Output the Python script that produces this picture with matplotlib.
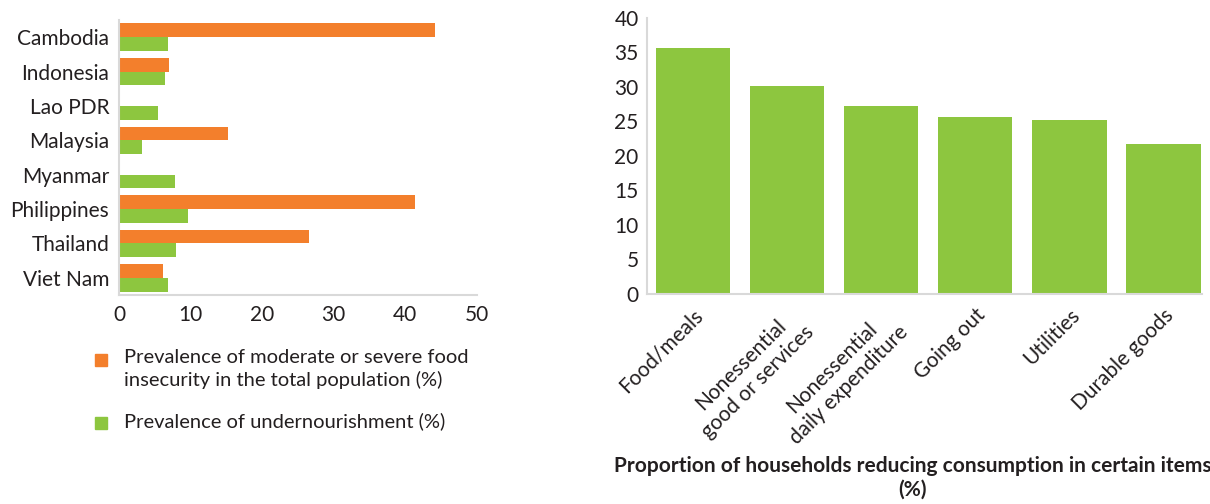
import matplotlib
matplotlib.use('Agg')
import matplotlib.pyplot as plt
import numpy as np
from matplotlib.patches import Rectangle

plt.rcParams['font.family'] = ['Lato', 'DejaVu Sans']

# left panel data
countries = ['Cambodia', 'Indonesia', 'Lao PDR', 'Malaysia', 'Myanmar',
             'Philippines', 'Thailand', 'Viet Nam']
food_insecurity = [44.2, 7.0, np.nan, 15.2, np.nan, 41.3, 26.5, 6.2]
undernourishment = [6.8, 6.4, 5.4, 3.2, 7.8, 9.7, 7.9, 6.8]
left_ticks = [0, 10, 20, 30, 40, 50]
legend_labels = ['Prevalence of moderate or severe food\ninsecurity in the total population (%)',
                 'Prevalence of undernourishment (%)']

# right panel data
items = ['Food/meals', 'Nonessential\ngood or services', 'Nonessential\ndaily expenditure',
         'Going out', 'Utilities', 'Durable goods']
households_pct = [35.7, 30.1, 27.2, 25.6, 25.2, 21.7]
right_ticks = [0, 5, 10, 15, 20, 25, 30, 35, 40]

orange = '#F37F2C'
green = '#8DC63F'
txt = '#231F20'
spine_col = '#D9D9D9'

W, H = 1210, 504
fig = plt.figure(figsize=(W / 100, H / 100), dpi=100)

# ---- left: horizontal grouped bars
ax1 = fig.add_axes([0.0983, 0.4147, 0.2959, 0.5457])
y = np.arange(len(countries))
ax1.barh(y - 0.2, food_insecurity, height=0.4, color=orange)
ax1.barh(y + 0.2, undernourishment, height=0.4, color=green)
ax1.set_yticks(y)
ax1.set_yticklabels(countries)
ax1.set_ylim(7.5, -0.5)
ax1.set_xlim(0, 50)
ax1.set_xticks(left_ticks)
for s in ['top', 'right']:
    ax1.spines[s].set_visible(False)
for s in ['left', 'bottom']:
    ax1.spines[s].set_color(spine_col)
    ax1.spines[s].set_linewidth(1.5)
ax1.tick_params(length=0, labelsize=15, colors=txt, pad=7)

# legend drawn by hand so the swatch sits on the first text line
for col, lab, ypx in zip([orange, green], legend_labels, [360, 423]):
    fig.add_artist(Rectangle((95 / W, 1 - (ypx + 6) / H), 12 / W, 12 / H,
                             transform=fig.transFigure, color=col))
    fig.text(124 / W, 1 - (ypx - 11) / H, lab, ha='left', va='top',
             fontsize=14.5, color=txt, linespacing=1.3)

# ---- right: vertical bars
ax2 = fig.add_axes([0.5347, 0.4167, 0.4587, 0.5476])
x = np.arange(len(items))
ax2.bar(x, households_pct, width=0.79, color=green)
ax2.set_xlim(-0.49, 5.41)
ax2.set_ylim(0, 40)
ax2.set_yticks(right_ticks)
ax2.set_xticks(x)
ax2.set_xticklabels(items, rotation=45, ha='right', rotation_mode='anchor',
                    multialignment='center')
for s in ['top', 'right']:
    ax2.spines[s].set_visible(False)
for s in ['left', 'bottom']:
    ax2.spines[s].set_color(spine_col)
    ax2.spines[s].set_linewidth(1.5)
ax2.tick_params(length=0, labelsize=15, colors=txt)
ax2.tick_params(axis='x', pad=8)
ax2.tick_params(axis='y', pad=6)

fig.text(0.7545, 0.052, 'Proportion of households reducing consumption in certain items\n(%)',
         ha='center', va='center', fontsize=15, fontweight='bold', color=txt,
         linespacing=1.25)

fig.savefig('out.png', dpi=100)
